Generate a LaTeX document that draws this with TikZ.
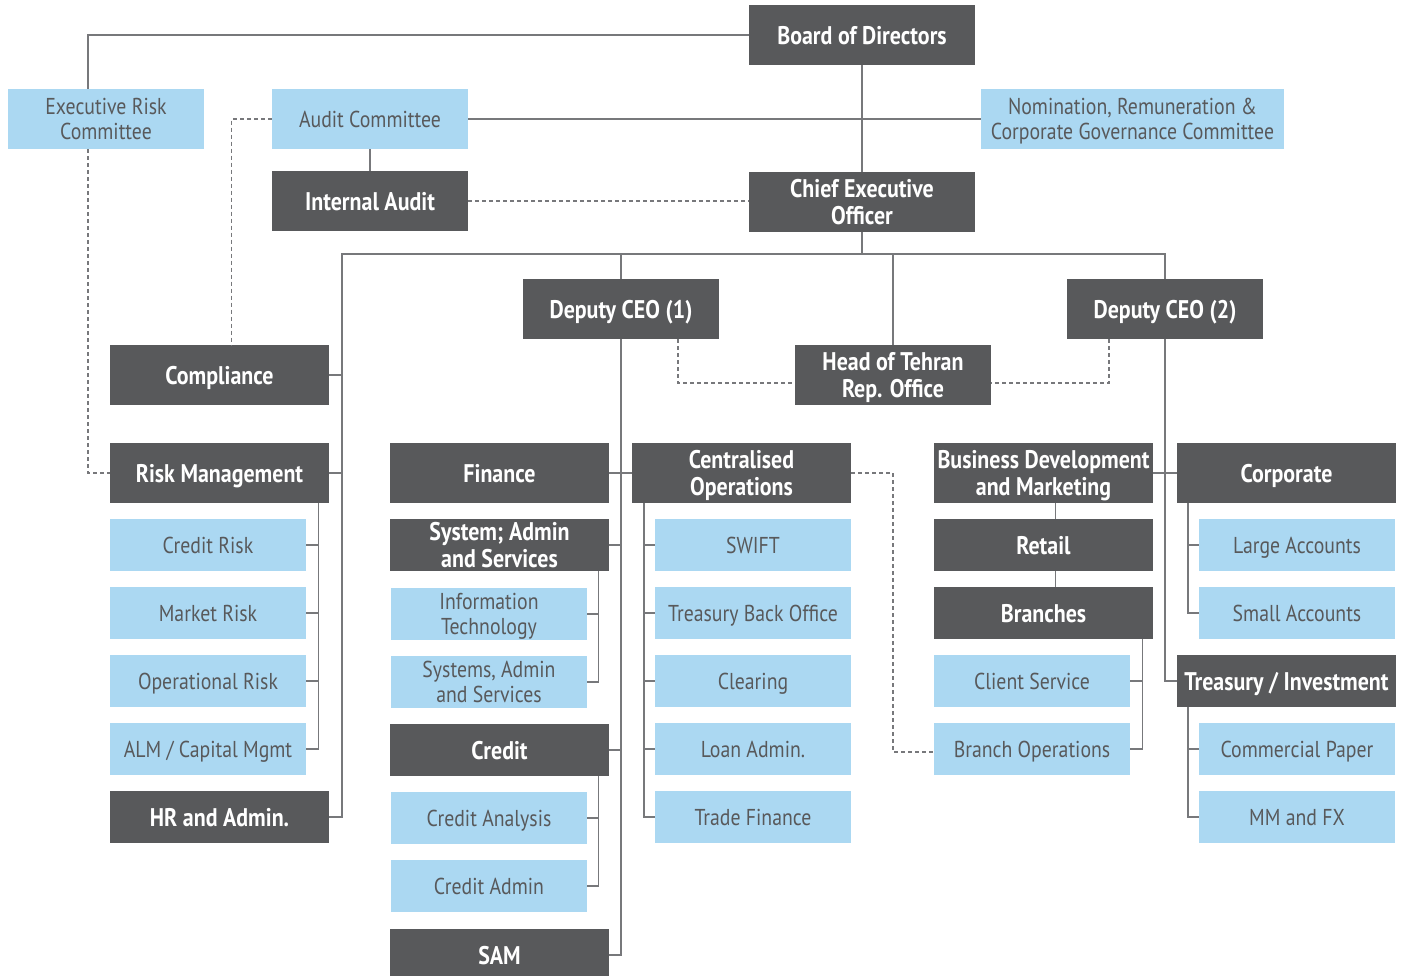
\documentclass[tikz,border=0pt]{standalone}
\usepackage{fontspec}
\setmainfont{PT Sans}[FakeStretch=0.86]
\definecolor{boxdark}{HTML}{58595B}
\definecolor{boxlight}{HTML}{ABD8F2}
\definecolor{linegrey}{HTML}{77787B}

\begin{document}
\begin{tikzpicture}[x=1pt,y=-1pt,
	dark/.style={fill=boxdark,text=white,font=\fontsize{25.5}{27}\selectfont\bfseries,
		align=center,inner sep=0pt,text depth=0pt,minimum width=219pt,minimum height=60pt},
	light/.style={fill=boxlight,text=boxdark,font=\fontsize{23}{25}\selectfont,
		align=center,inner sep=0pt,text depth=0pt,minimum width=196pt,minimum height=52pt},
	conn/.style={draw=linegrey,line width=1.4pt},
	link/.style={conn,dash pattern=on 4pt off 3pt}]
\useasboundingbox (0,0) rectangle (1402,975);

%========================================
% TOP: board, committees, CEO
%========================================
\node[dark,minimum width=226pt] (board) at (862,35) {Board of Directors};
\node[light,minimum height=60pt] (erc) at (106,119) {Executive Risk\\Committee};
\node[light,minimum height=60pt] (audit) at (370,119) {Audit Committee};
\node[light,minimum width=303pt,minimum height=60pt] (nom) at (1132.5,119)
	{Nomination, Remuneration \&\\Corporate Governance Committee};
\node[dark,minimum width=196pt] (intaudit) at (370,201) {Internal Audit};
\node[dark,minimum width=226pt] (ceo) at (862,202) {Chief Executive\\Officer};

%========================================
% DEPUTIES
%========================================
\node[dark,minimum width=196pt] (dceo1) at (621,309) {Deputy CEO (1)};
\node[dark,minimum width=196pt] (dceo2) at (1165,309) {Deputy CEO (2)};
\node[dark,minimum width=196pt] (head) at (893,375) {Head of Tehran\\Rep. Office};

%========================================
% LEFT: reporting to CEO
%========================================
\node[dark] (compl) at (219.5,375) {Compliance};
\node[dark] (risk) at (219.5,473) {Risk Management};
\node[light] (crisk) at (208,545) {Credit Risk};
\node[light] (mrisk) at (208,613) {Market Risk};
\node[light] (orisk) at (208,681) {Operational Risk};
\node[light] (alm) at (208,749) {ALM / Capital Mgmt};
\node[dark,minimum height=52pt] (hr) at (219.5,817) {HR and Admin.};

%========================================
% MIDDLE: Deputy CEO (1)
%========================================
\node[dark] (fin) at (499.5,473) {Finance};
\node[dark,minimum height=52pt] (sys) at (499.5,545) {System; Admin\\and Services};
\node[light] (it) at (489,614) {Information\\Technology};
\node[light] (sas) at (489,682) {Systems, Admin\\and Services};
\node[dark,minimum height=52pt] (credit) at (499.5,750) {Credit};
\node[light] (canal) at (489,818) {Credit Analysis};
\node[light] (cadmin) at (489,886) {Credit Admin};
\node[dark,minimum height=52pt] (sam) at (499.5,955) {SAM};

\node[dark] (cops) at (741.5,473) {Centralised\\Operations};
\node[light] (swift) at (753,545) {SWIFT};
\node[light] (tbo) at (753,613) {Treasury Back Office};
\node[light] (clr) at (753,681) {Clearing};
\node[light] (loan) at (753,749) {Loan Admin.};
\node[light] (trade) at (753,817) {Trade Finance};

%========================================
% RIGHT: Deputy CEO (2)
%========================================
\node[dark] (bdm) at (1043.5,473) {Business Development\\and Marketing};
\node[dark,minimum height=52pt] (retail) at (1043.5,545) {Retail};
\node[dark,minimum height=52pt] (branches) at (1043.5,613) {Branches};
\node[light] (client) at (1032,681) {Client Service};
\node[light] (brops) at (1032,749) {Branch Operations};

\node[dark] (corp) at (1286.5,473) {Corporate};
\node[light] (large) at (1297,545) {Large Accounts};
\node[light] (small) at (1297,613) {Small Accounts};
\node[dark,minimum height=52pt] (treas) at (1286.5,681) {Treasury / Investment};
\node[light] (cp) at (1297,749) {Commercial Paper};
\node[light] (mmfx) at (1297,817) {MM and FX};

%========================================
% LINES
%========================================
% board and committees
\draw[conn] (board.west) -| ([xshift=-18pt]erc.north);
\draw[conn] (board.south) -- (ceo.north);
\draw[conn] (audit.east) -- (nom.west);
\draw[conn] (audit.south) -- (intaudit.north);
\draw[link] (intaudit.east) -- (intaudit.east -| ceo.west);
\draw[link] (audit.west) -| ([xshift=12pt]compl.north);
\draw[link] ([xshift=-18pt]erc.south) |- (risk.west);

% bus below CEO
\coordinate (busL) at (342,254);
\draw[conn] (ceo.south) -- (ceo.south |- busL);
\draw[conn] (dceo2.north) |- (busL) -- (busL |- hr.east) -- (hr.east);
\draw[conn] (dceo1.north) -- (dceo1.north |- busL);
\draw[conn] (head.north) -- (head.north |- busL);
\foreach \n in {compl,risk}
	\draw[conn] (\n.east) -- (\n.east -| busL);

% dotted lines to Tehran office
\draw[link] ([xshift=57pt]dceo1.south) |- ([yshift=-8pt]head.west);
\draw[link] ([xshift=-56pt]dceo2.south) |- ([yshift=-8pt]head.east);

% risk management
\coordinate (rv) at ([xshift=-11pt]risk.south east);
\draw[conn] (rv) |- (alm.east);
\foreach \n in {crisk,mrisk,orisk}
	\draw[conn] (\n.east) -- (\n.east -| rv);

% deputy CEO (1)
\draw[conn] (dceo1.south) |- (sam.east);
\draw[conn] (fin.east) -- (cops.west);
\foreach \n in {sys,credit}
	\draw[conn] (\n.east) -- (\n.east -| dceo1.south);
\coordinate (sv) at ([xshift=-11pt]sys.south east);
\draw[conn] (sv) |- (sas.east);
\draw[conn] (it.east) -- (it.east -| sv);
\coordinate (cv) at ([xshift=-11pt]credit.south east);
\draw[conn] (cv) |- (cadmin.east);
\draw[conn] (canal.east) -- (canal.east -| cv);
\coordinate (ov) at ([xshift=12pt]cops.south west);
\draw[conn] (ov) |- (trade.west);
\foreach \n in {swift,tbo,clr,loan}
	\draw[conn] (\n.west) -- (\n.west -| ov);
\draw[link] (cops.east) -| ([yshift=-3pt]brops.west -| head.south) -- ([yshift=-3pt]brops.west);

% deputy CEO (2)
\draw[conn] (dceo2.south) |- (treas.west);
\draw[conn] (bdm.east) -- (corp.west);
\draw[conn] ([xshift=12pt]bdm.south) -- ([xshift=12pt]retail.north);
\draw[conn] ([xshift=12pt]retail.south) -- ([xshift=12pt]branches.north);
\coordinate (bv) at ([xshift=-11pt]branches.south east);
\draw[conn] (bv) |- (brops.east);
\draw[conn] (client.east) -- (client.east -| bv);
\coordinate (pv) at ([xshift=11pt]corp.south west);
\draw[conn] (pv) |- (small.west);
\draw[conn] (large.west) -- (large.west -| pv);
\coordinate (tv) at ([xshift=11pt]treas.south west);
\draw[conn] (tv) |- (mmfx.west);
\draw[conn] (cp.west) -- (cp.west -| tv);
\end{tikzpicture}
\end{document}
